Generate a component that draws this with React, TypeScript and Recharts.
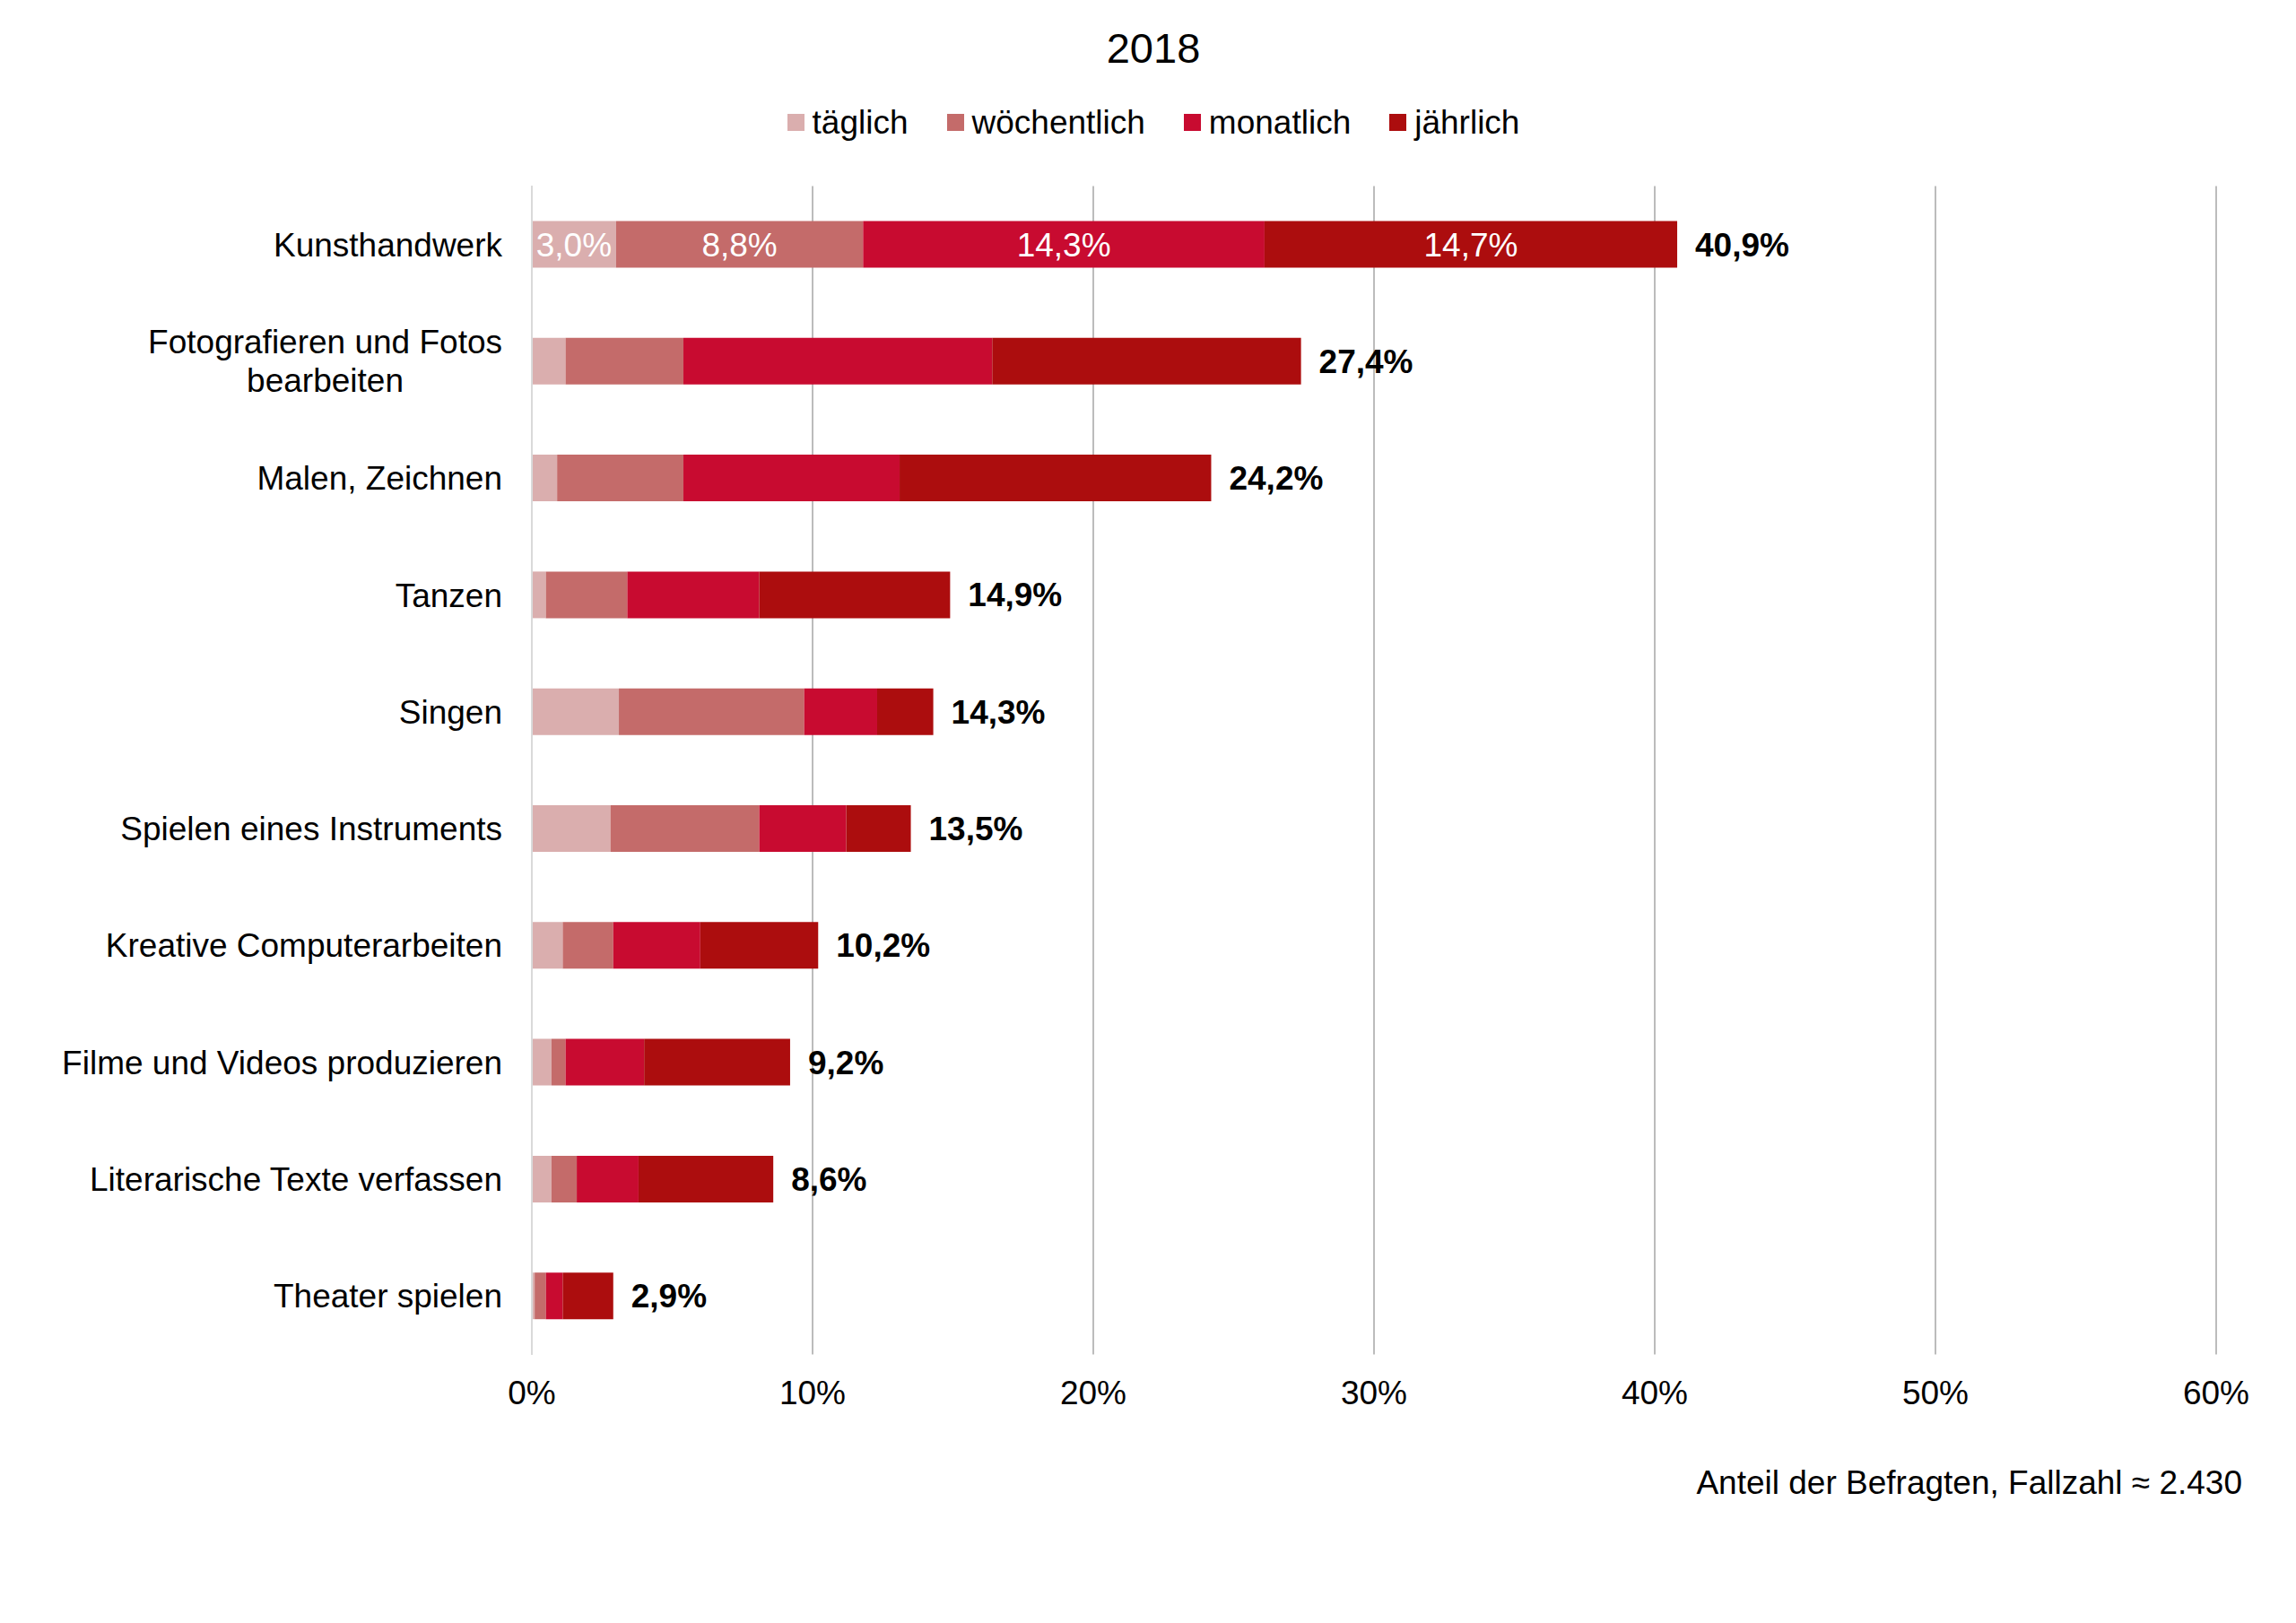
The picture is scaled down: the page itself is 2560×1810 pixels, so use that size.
import React from "react";
import { BarChart, Bar, XAxis, YAxis, CartesianGrid, ReferenceLine, LabelList } from "recharts";

// --- data (values in % of respondents) ---
const categories = [
  "Kunsthandwerk",
  "Fotografieren und Fotos\nbearbeiten",
  "Malen, Zeichnen",
  "Tanzen",
  "Singen",
  "Spielen eines Instruments",
  "Kreative Computerarbeiten",
  "Filme und Videos produzieren",
  "Literarische Texte verfassen",
  "Theater spielen",
];
const taeglich = [3.0, 1.2, 0.9, 0.5, 3.1, 2.8, 1.1, 0.7, 0.7, 0.1];
const woechentlich = [8.8, 4.2, 4.5, 2.9, 6.6, 5.3, 1.8, 0.5, 0.9, 0.4];
const monatlich = [14.3, 11.0, 7.7, 4.7, 2.6, 3.1, 3.1, 2.8, 2.2, 0.6];
const jaehrlich = [14.7, 11.0, 11.1, 6.8, 2.0, 2.3, 4.2, 5.2, 4.8, 1.8];
const totalLabels = ["40,9%", "27,4%", "24,2%", "14,9%", "14,3%", "13,5%", "10,2%", "9,2%", "8,6%", "2,9%"];
const labelledRow = 0; // only the first row shows segment values
const xTicks = [0, 10, 20, 30, 40, 50, 60];

const seriesKeys = ["taeglich", "woechentlich", "monatlich", "jaehrlich"];
const seriesNames = ["täglich", "wöchentlich", "monatlich", "jährlich"];
const seriesColors = ["#DAAEAE", "#C46B6A", "#C80B30", "#AC0D0E"];
const seriesValues = [taeglich, woechentlich, monatlich, jaehrlich];

const FONT = "'Liberation Sans', Arial, Helvetica, sans-serif";
const FS = 37;

const fmt = (v: number) => v.toFixed(1).replace(".", ",") + "%";

const data = categories.map((name, i) => {
  const row: Record<string, string | number> = { name, total: totalLabels[i] };
  seriesKeys.forEach((k, s) => {
    row[k] = seriesValues[s][i];
    row["lbl_" + k] = i === labelledRow ? fmt(seriesValues[s][i]) : "";
  });
  return row;
});

let measureCtx: CanvasRenderingContext2D | null = null;
function textWidth(s: string) {
  if (!measureCtx) measureCtx = document.createElement("canvas").getContext("2d");
  if (!measureCtx) return s.length * FS * 0.5;
  measureCtx.font = `${FS}px 'Liberation Sans'`;
  return measureCtx.measureText(s).width;
}

function CategoryTick(props: any) {
  const { x, y, payload } = props;
  const lines = String(payload.value).split("\n");
  const right = Number(x) - 25;
  const cy = Number(y);
  if (lines.length === 1) {
    return (
      <text x={right} y={cy + 13} textAnchor="end" fontSize={FS} fontFamily={FONT} fill="#000">
        {lines[0]}
      </text>
    );
  }
  // multi-line: block right-aligned, lines centred within it
  const w = Math.max(...lines.map(textWidth));
  const cx = right - w / 2;
  const lh = 43;
  return (
    <text fontSize={FS} fontFamily={FONT} fill="#000" textAnchor="middle">
      {lines.map((l, i) => (
        <tspan key={i} x={cx} y={cy + 13 + (i - (lines.length - 1) / 2) * lh}>
          {l}
        </tspan>
      ))}
    </text>
  );
}

function PercentTick(props: any) {
  const { x, y, payload } = props;
  return (
    <text x={Number(x)} y={Number(y) + 47} textAnchor="middle" fontSize={FS} fontFamily={FONT} fill="#000">
      {payload.value + "%"}
    </text>
  );
}

function InnerLabel(props: any) {
  const { x, y, width, height, value } = props;
  if (!value) return null;
  return (
    <text
      x={Number(x) + Number(width) / 2}
      y={Number(y) + Number(height) / 2 + 13}
      textAnchor="middle"
      fontSize={FS}
      fontFamily={FONT}
      fill="#fff"
    >
      {value}
    </text>
  );
}

function TotalLabel(props: any) {
  const { x, y, width, height, value } = props;
  return (
    <text
      x={Number(x) + Number(width) + 20}
      y={Number(y) + Number(height) / 2 + 13}
      textAnchor="start"
      fontSize={FS}
      fontWeight="bold"
      fontFamily={FONT}
      fill="#000"
    >
      {value}
    </text>
  );
}

export default function App() {
  return (
    <div
      style={{
        position: "absolute",
        left: 0,
        top: 0,
        width: 2560,
        height: 1810,
        background: "#fff",
        fontFamily: FONT,
        color: "#000",
      }}
    >
      <BarChart
        layout="vertical"
        width={2560}
        height={1810}
        data={data}
        margin={{ top: 207.5, right: 89, bottom: 239.5, left: 0 }}
      >
        <CartesianGrid horizontal={false} stroke="#A6A6A6" strokeWidth={1.5} />
        <XAxis
          type="number"
          domain={[0, 60]}
          ticks={xTicks}
          interval={0}
          axisLine={false}
          tickLine={false}
          height={60}
          tick={<PercentTick />}
        />
        <YAxis
          type="category"
          dataKey="name"
          width={593}
          interval={0}
          axisLine={false}
          tickLine={false}
          tick={<CategoryTick />}
        />
        <ReferenceLine x={0} stroke="#D9D9D9" strokeWidth={2} />
        {seriesKeys.map((k, i) => (
          <Bar
            key={k}
            dataKey={k}
            name={seriesNames[i]}
            stackId="s"
            fill={seriesColors[i]}
            barSize={52}
            isAnimationActive={false}
          >
            <LabelList dataKey={"lbl_" + k} content={<InnerLabel />} />
            {i === seriesKeys.length - 1 && <LabelList dataKey="total" content={<TotalLabel />} />}
          </Bar>
        ))}
      </BarChart>

      {/* title */}
      <div
        style={{
          position: "absolute",
          left: 0,
          width: 2572,
          top: 30,
          textAlign: "center",
          fontSize: 47,
          lineHeight: "47px",
        }}
      >
        2018
      </div>

      {/* legend */}
      <div
        style={{
          position: "absolute",
          left: 0,
          width: 2572,
          top: 118,
          height: 37,
          display: "flex",
          justifyContent: "center",
          alignItems: "center",
          gap: 43,
          fontSize: FS,
          lineHeight: "37px",
        }}
      >
        {seriesNames.map((n, i) => (
          <div key={n} style={{ display: "flex", alignItems: "center" }}>
            <span style={{ width: 19, height: 19, background: seriesColors[i], marginRight: 9, display: "inline-block" }} />
            <span>{n}</span>
          </div>
        ))}
      </div>

      {/* footnote */}
      <div
        style={{
          position: "absolute",
          right: 60,
          top: 1635,
          fontSize: FS,
          lineHeight: "37px",
          textAlign: "right",
          whiteSpace: "nowrap",
        }}
      >
        Anteil der Befragten, Fallzahl ≈ 2.430
      </div>
    </div>
  );
}
